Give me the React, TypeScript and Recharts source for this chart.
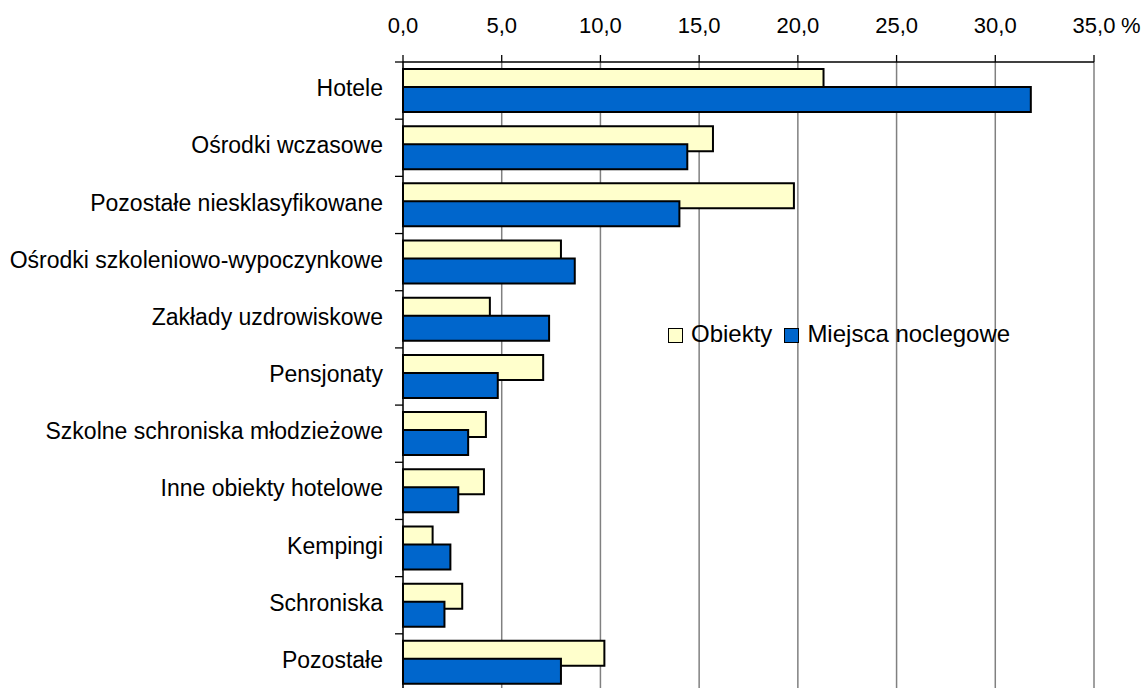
import React from "react";
import { BarChart, Bar, XAxis, YAxis, CartesianGrid, Legend } from "recharts";

const FONT = '"Liberation Sans", Arial, sans-serif';

const categories = [
  "Hotele",
  "Ośrodki wczasowe",
  "Pozostałe niesklasyfikowane",
  "Ośrodki szkoleniowo-wypoczynkowe",
  "Zakłady uzdrowiskowe",
  "Pensjonaty",
  "Szkolne schroniska młodzieżowe",
  "Inne obiekty hotelowe",
  "Kempingi",
  "Schroniska",
  "Pozostałe",
];

const obiekty = [21.3, 15.7, 19.8, 8.0, 4.4, 7.1, 4.2, 4.1, 1.5, 3.0, 10.2];
const miejsca = [31.8, 14.4, 14.0, 8.7, 7.4, 4.8, 3.3, 2.8, 2.4, 2.1, 8.0];

const xTicks = [0, 5, 10, 15, 20, 25, 30, 35];

const series = [
  { key: "obiekty", name: "Obiekty", color: "#FFFFCC" },
  { key: "miejsca", name: "Miejsca noclegowe", color: "#0066CC" },
];

const data = categories.map((name, i) => ({
  name,
  obiekty: obiekty[i],
  miejsca: miejsca[i],
}));

const Y_TICK_SIZE = 8;
const Y_TICK_MARGIN = 12;

function ValueTick(props: any) {
  const { x, y, payload } = props;
  const label = Number(payload.value).toFixed(1).replace(".", ",");
  return (
    <g>
      <text x={x} y={y} textAnchor="middle" fontSize={22} fontFamily={FONT} fill="#000">
        {label}
      </text>
      {payload.value === 35 && (
        <text x={x + 27} y={y} fontSize={22} fontFamily={FONT} fill="#000">
          %
        </text>
      )}
    </g>
  );
}

function CategoryTick(props: any) {
  const { x, y, payload } = props;
  const half = payload?.offset ?? 28.6;
  const axisX = x + Y_TICK_SIZE + Y_TICK_MARGIN;
  return (
    <g>
      <line x1={axisX - Y_TICK_SIZE} x2={axisX} y1={y - half} y2={y - half} stroke="#000" strokeWidth={1.3} />
      <text x={x} y={y} dy={5.6} textAnchor="end" fontSize={23} fontFamily={FONT} fill="#000">
        {payload.value}
      </text>
    </g>
  );
}

function LegendBox() {
  return (
    <div style={{ display: "flex", alignItems: "center", fontFamily: FONT, fontSize: 24, color: "#000", whiteSpace: "nowrap" }}>
      {series.map((s) => (
        <span key={s.key} style={{ display: "flex", alignItems: "center", marginRight: 12 }}>
          <span
            style={{
              display: "inline-block",
              boxSizing: "border-box",
              width: 15,
              height: 15,
              background: s.color,
              border: "1.5px solid #000",
              marginRight: 8,
              marginTop: 3,
            }}
          />
          {s.name}
        </span>
      ))}
    </div>
  );
}

export default function App() {
  return (
    <div style={{ position: "absolute", left: 0, top: 0, width: 1144, height: 688, overflow: "hidden", background: "#fff" }}>
      <BarChart
        width={1144}
        height={691}
        data={data}
        layout="vertical"
        margin={{ top: 0, right: 50, bottom: 0, left: 0 }}
        barSize={25}
        barGap={-7}
      >
        <CartesianGrid horizontal={false} stroke="#808080" strokeWidth={1.5} />
        <XAxis
          type="number"
          orientation="top"
          domain={[0, 35]}
          ticks={xTicks}
          height={62}
          tickSize={7}
          tickMargin={22.5}
          axisLine={{ stroke: "#000", strokeWidth: 1.3 }}
          tickLine={{ stroke: "#000", strokeWidth: 1.3 }}
          tick={<ValueTick />}
          interval={0}
        />
        <YAxis
          type="category"
          dataKey="name"
          width={403}
          tickSize={Y_TICK_SIZE}
          tickMargin={Y_TICK_MARGIN}
          tickLine={false}
          axisLine={{ stroke: "#000", strokeWidth: 1.3 }}
          tick={<CategoryTick />}
          interval={0}
        />
        <Legend
          layout="horizontal"
          verticalAlign="middle"
          align="center"
          content={<LegendBox />}
          wrapperStyle={{ left: 668, top: 320, width: "auto" }}
        />
        {series.map((s) => (
          <Bar
            key={s.key}
            dataKey={s.key}
            name={s.name}
            fill={s.color}
            stroke="#000"
            strokeWidth={2}
            isAnimationActive={false}
          />
        ))}
      </BarChart>
    </div>
  );
}
